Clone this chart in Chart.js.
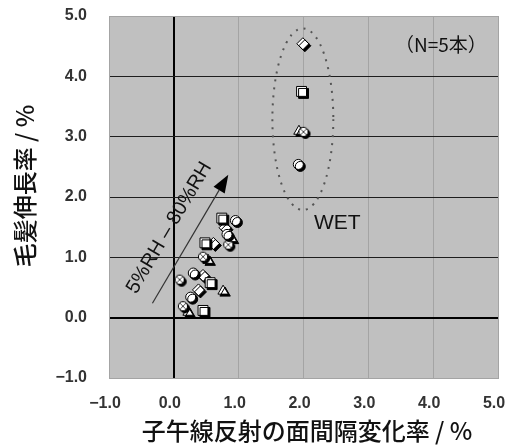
<!DOCTYPE html>
<html><head><meta charset="utf-8">
<script src="https://cdn.jsdelivr.net/npm/chart.js@4.4.1/dist/chart.umd.min.js"></script>
<style>html,body{margin:0;padding:0;background:#fff;}#wrap{width:507px;height:445px;}</style>
</head><body><div id="wrap"><canvas id="c" width="507" height="445"></canvas></div>
<script>
// ---- data ----
const xTickValues = [-1, 0, 1, 2, 3, 4, 5];
const xTickLabels = ['\u22121.0', '0.0', '1.0', '2.0', '3.0', '4.0', '5.0'];
const yTickValues = [-1, 0, 1, 2, 3, 4, 5];
const yTickLabels = ['\u22121.0', '0.0', '1.0', '2.0', '3.0', '4.0', '5.0'];

const circleX   = [0.26, 0.30, 0.82, 0.95, 1.92];
const circleY   = [0.34, 0.74, 1.38, 1.61, 2.54];
const squareX   = [0.45, 0.56, 0.48, 0.74, 1.97];
const squareY   = [0.12, 0.58, 1.24, 1.65, 3.75];
const diamondX  = [0.38, 0.45, 0.61, 0.79, 1.99];
const diamondY  = [0.46, 0.70, 1.23, 1.49, 4.54];
const triangleX = [0.22, 0.76, 0.53, 0.89, 1.93];
const triangleY = [0.09, 0.44, 0.95, 1.31, 3.09];
const crossX    = [0.09, 0.14, 0.45, 0.84, 2.00];
const crossY    = [0.63, 0.19, 1.01, 1.21, 3.08];

// annotations (data units)
const arrowFrom = [-0.33, 0.24];
const arrowTo   = [0.84, 2.37];
const rhLabel   = '5%RH \u2013 80%RH';
const rhLabelAt = [-0.07, 1.49];
const wetEllipseCenter = [1.99, 3.29];
const wetEllipseRadii  = [0.47, 1.505];
const wetLabel = 'WET';
const wetLabelAt = [2.52, 1.56];
const nLabel = '\uff08N=5\u672c\uff09';
const nLabelAt = [4.12, 4.53];
const xTitle = '子午線反射の面間隔変化率 / %';
const yTitle = '毛髪伸長率 / %';

// ---- helpers ----
const pts = (xs, ys) => xs.map((x, i) => ({x: x, y: ys[i]}));

const crossImg = document.createElement('canvas');
crossImg.width = 12; crossImg.height = 12;
(function(){
  const g = crossImg.getContext('2d');
  g.beginPath(); g.arc(6, 6, 4.6, 0, Math.PI * 2);
  g.fillStyle = '#fff'; g.fill();
  g.lineWidth = 1; g.strokeStyle = '#000'; g.stroke();
  g.beginPath();
  g.moveTo(3.2, 3.2); g.lineTo(8.8, 8.8);
  g.moveTo(8.8, 3.2); g.lineTo(3.2, 8.8);
  g.lineWidth = 1; g.strokeStyle = '#444'; g.stroke();
})();

const bgPlugin = {
  id: 'bg',
  beforeDraw(chart) {
    const {ctx, chartArea: a} = chart;
    ctx.save();
    ctx.fillStyle = '#c0c0c0';
    ctx.fillRect(a.left, a.top, a.right - a.left, a.bottom - a.top);
    ctx.restore();
  }
};

const decoPlugin = {
  id: 'deco',
  beforeDatasetsDraw(chart) {
    const ctx = chart.ctx, xs = chart.scales.x, ys = chart.scales.y;
    const px = v => xs.getPixelForValue(v), py = v => ys.getPixelForValue(v);
    ctx.save();
    // dotted ellipse
    const cx = px(wetEllipseCenter[0]), cy = py(wetEllipseCenter[1]);
    const rx = px(wetEllipseCenter[0] + wetEllipseRadii[0]) - cx;
    const ry = cy - py(wetEllipseCenter[1] + wetEllipseRadii[1]);
    ctx.beginPath();
    ctx.ellipse(cx, cy, rx, ry, 0, 0, Math.PI * 2);
    ctx.setLineDash([2, 6]);
    ctx.lineWidth = 2;
    ctx.strokeStyle = '#555';
    ctx.stroke();
    ctx.setLineDash([]);
    // arrow
    const x1 = px(arrowFrom[0]), y1 = py(arrowFrom[1]);
    const x2 = px(arrowTo[0]), y2 = py(arrowTo[1]);
    const ang = Math.atan2(y2 - y1, x2 - x1);
    const hl = 18, hw = 6.5;
    const bx = x2 - hl * Math.cos(ang), by = y2 - hl * Math.sin(ang);
    ctx.beginPath(); ctx.moveTo(x1, y1); ctx.lineTo(bx, by);
    ctx.lineWidth = 1.2; ctx.strokeStyle = '#333'; ctx.stroke();
    ctx.beginPath();
    ctx.moveTo(x2, y2);
    ctx.lineTo(bx + hw * Math.sin(ang), by - hw * Math.cos(ang));
    ctx.lineTo(bx - hw * Math.sin(ang), by + hw * Math.cos(ang));
    ctx.closePath(); ctx.fillStyle = '#000'; ctx.fill();
    // RH label
    ctx.save();
    ctx.translate(px(rhLabelAt[0]), py(rhLabelAt[1]));
    ctx.rotate(ang);
    ctx.font = '20px "Liberation Sans", Arial, sans-serif';
    ctx.fillStyle = '#111'; ctx.textAlign = 'center'; ctx.textBaseline = 'middle';
    ctx.fillText(rhLabel, 0, 0);
    ctx.restore();
    // WET label
    ctx.font = '21px "Liberation Sans", Arial, sans-serif';
    ctx.fillStyle = '#111'; ctx.textAlign = 'center'; ctx.textBaseline = 'middle';
    ctx.fillText(wetLabel, px(wetLabelAt[0]), py(wetLabelAt[1]));
    // N label
    ctx.font = '19px "Noto Sans CJK JP", sans-serif';
    ctx.fillText(nLabel, px(nLabelAt[0]), py(nLabelAt[1]));
    ctx.restore();
    // shadow for markers
    ctx.save();
    ctx.shadowColor = '#000';
    ctx.shadowOffsetX = 2;
    ctx.shadowOffsetY = 2;
    ctx.shadowBlur = 0;
  },
  afterDatasetsDraw(chart) {
    chart.ctx.restore();
  },
  afterDraw(chart) {
    const ctx = chart.ctx;
    ctx.save();
    ctx.fillStyle = '#111';
    ctx.font = '500 24px "Noto Sans CJK JP", sans-serif';
    ctx.textAlign = 'center'; ctx.textBaseline = 'middle';
    ctx.fillText(xTitle, 307, 431);
    ctx.translate(25, 186);
    ctx.rotate(-Math.PI / 2);
    ctx.fillText(yTitle, 0, 0);
    ctx.restore();
  }
};

const mk = (data, style, r) => ({
  data: data, pointStyle: style, pointRadius: r, pointHoverRadius: r,
  pointBackgroundColor: '#fff', pointBorderColor: '#000', pointBorderWidth: 1,
  showLine: false
});

const tickFont = {family: '"Liberation Sans", Arial, sans-serif', size: 16, weight: 'bold'};

new Chart(document.getElementById('c'), {
  type: 'scatter',
  data: {
    datasets: [
      mk(pts(circleX, circleY), 'circle', 5),
      mk(pts(squareX, squareY), 'rect', 7),
      mk(pts(crossX, crossY), crossImg, 5),
      mk(pts(diamondX, diamondY), 'rectRot', 6),
      mk(pts(triangleX, triangleY), 'triangle', 6)
    ]
  },
  options: {
    responsive: false,
    animation: false,
    devicePixelRatio: 1,
    layout: {padding: {top: 16, right: 9, left: 0, bottom: 0}},
    plugins: {legend: {display: false}, tooltip: {enabled: false}},
    scales: {
      x: {
        type: 'linear', min: -1, max: 5,
        afterBuildTicks: s => { s.ticks = xTickValues.map(v => ({value: v})); },
        afterFit: s => { s.height = 67; s.paddingLeft = 0; s.paddingRight = 0; },
        ticks: {
          callback: (v, i) => xTickLabels[i],
          font: tickFont, color: '#333', padding: 16, labelOffset: -4, maxRotation: 0
        },
        grid: {
          drawTicks: false,
          color: c => (c.tick && c.tick.value === 0) ? '#000' : '#a4a4a4',
          lineWidth: c => (c.tick && c.tick.value === 0) ? 2 : 1
        },
        border: {display: true, color: '#a4a4a4', width: 1}
      },
      y: {
        type: 'linear', min: -1, max: 5,
        afterBuildTicks: s => { s.ticks = yTickValues.map(v => ({value: v})); },
        afterFit: s => { s.width = 109; s.paddingTop = 0; s.paddingBottom = 0; },
        ticks: {
          callback: (v, i) => yTickLabels[i],
          font: tickFont, color: '#333', padding: 22
        },
        grid: {
          drawTicks: false,
          color: c => {
            if (!c.tick) return '#a4a4a4';
            const v = c.tick.value;
            if (v === 0) return '#000';
            if (v === 5 || v === -1) return '#a4a4a4';
            return '#1e1e1e';
          },
          lineWidth: c => (c.tick && c.tick.value === 0) ? 2 : 1
        },
        border: {display: true, color: '#a4a4a4', width: 1}
      }
    }
  },
  plugins: [bgPlugin, decoPlugin]
});
</script>
</body></html>
